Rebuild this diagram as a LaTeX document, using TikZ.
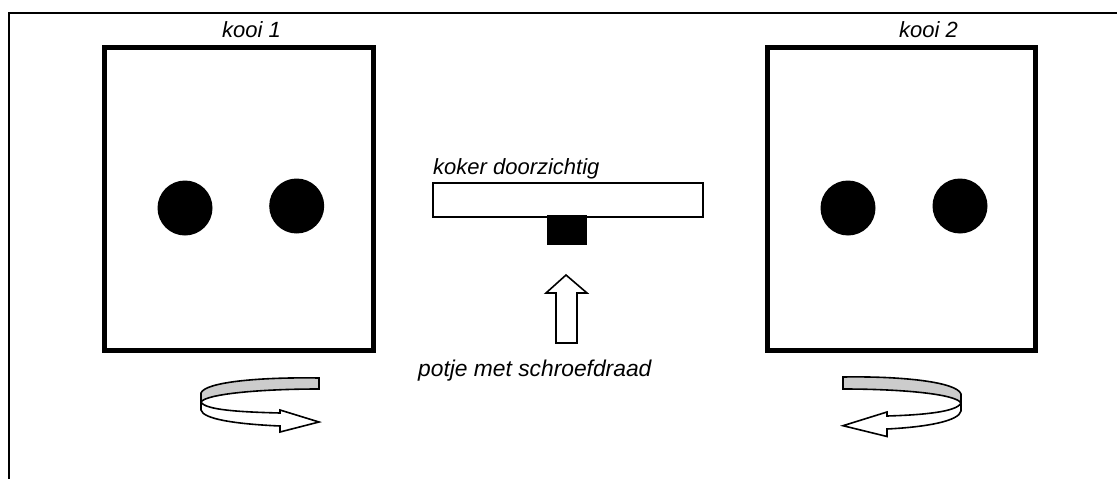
\documentclass[tikz,border=0pt]{standalone}
\usepackage{fontspec}
\setmainfont{Liberation Sans}
\begin{document}
\begin{tikzpicture}[x=1pt,y=-1pt,
  lbl/.style={font=\fontsize{22}{26}\selectfont\itshape, inner sep=0pt, anchor=base west},
  cage/.style={draw, line width=5pt},
  dot/.style={fill=black},
  band/.style={draw, line width=1.6pt, line join=miter},
]
\useasboundingbox (0,0) rectangle (1117,479);
% frame (top and left edges visible)
\draw[line width=2pt] (8.7,479) -- (8.7,12.5) -- (1117,12.5);

% cages
\draw[cage] (104,47.5) rectangle (373,350.5);
\draw[cage] (767,47.5) rectangle (1035,350.5);
\fill[dot] (185,208) circle (27.5);
\fill[dot] (296.7,206) circle (27.5);
\fill[dot] (848,208) circle (27.5);
\fill[dot] (960,206) circle (27.5);

% labels
\node[lbl] (k1) at (222,37) {kooi 1};
\node[lbl] (k2) at (899,37) {kooi 2};
\node[lbl] (kd) at (433,174.5) {koker doorzichtig};
\node[lbl, font=\fontsize{22.8}{26}\selectfont\itshape] (ps) at (418,376) {potje met schroefdraad};

% tube and screw cap
\draw[line width=2pt] (433.3,182.7) rectangle (703.3,217.3);
\fill[black] (547,215) rectangle (587,245);

% up arrow
\draw[line width=1.6pt, line join=miter, fill=white]
  (556,343) -- (556,293) -- (546,293) -- (566,275) -- (587,293) -- (577,293) -- (577,343) -- cycle;

% rotation arrow 1
\begin{scope}
\draw[band, fill=black!20]
  (319,378) .. controls (260,377) and (205,382) .. (201,393)
  -- (201,402) .. controls (206,394) and (260,389) .. (319,389) -- cycle;
\draw[band, fill=white]
  (201,402) .. controls (205,410) and (240,412) .. (280,413)
  -- (280,410) -- (319,422) -- (280,432) -- (280,426)
  .. controls (235,424) and (203,419) .. (201,410) -- cycle;
\end{scope}

% rotation arrow 2 (mirrored)
\begin{scope}[xshift=1162pt, xscale=-1]
\draw[band, fill=black!20]
  (319,377) .. controls (260,376) and (205,382) .. (201,394)
  -- (201,403) .. controls (206,394) and (260,389) .. (319,389) -- cycle;
\draw[band, fill=white]
  (201,403) .. controls (205,412) and (240,415) .. (275,416)
  -- (275,412) -- (319,425.7) -- (275,436.5) -- (275,429)
  .. controls (235,427) and (203,421) .. (201,411) -- cycle;
\end{scope}
\end{tikzpicture}
\end{document}
